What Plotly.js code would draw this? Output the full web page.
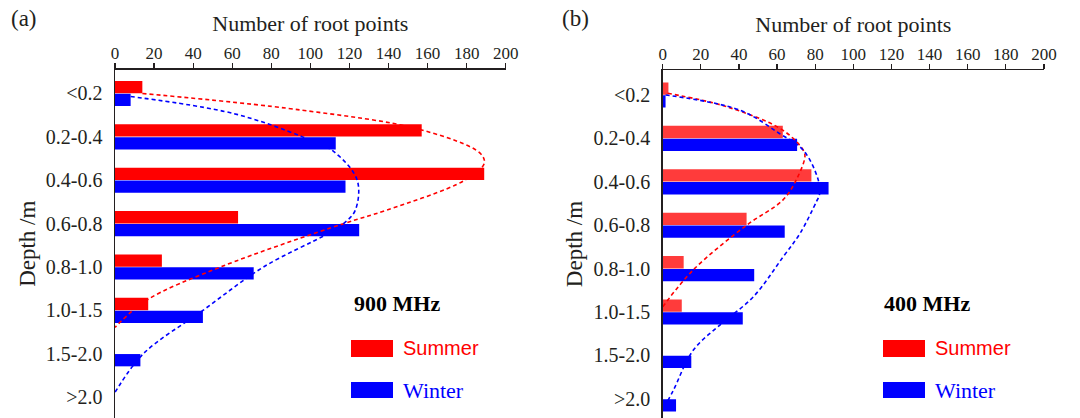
<!DOCTYPE html>
<html>
<head>
<meta charset="utf-8">
<script src="https://cdn.plot.ly/plotly-3.0.1.min.js"></script>
<style>html,body{margin:0;padding:0;background:#fff;}#chart{width:1080px;height:418px;}</style>
</head>
<body>
<div id="chart"></div>
<script>
// ---- data ----
const depthClasses = ["<0.2", "0.2-0.4", "0.4-0.6", "0.6-0.8", "0.8-1.0", "1.0-1.5", "1.5-2.0", ">2.0"];
const summer900 = [14, 157, 189, 63, 24, 17, 0, 0];
const winter900 = [8, 113, 118, 125, 71, 45, 13, 0];
const summer400 = [3, 63, 78, 44, 11, 10, 0, 0];
const winter400 = [1.5, 70.5, 87, 64, 48, 42, 15, 7];

// fitted distribution curves (x = number of root points, y = depth class position)
const curveSummer900X = [14, 95, 157, 187, 189, 179, 139, 117, 54, 16, 0];
const curveSummer900Y = [0, 0.38, 0.84, 1.38, 1.61, 2.0, 2.69, 3.0, 4.0, 4.77, 5.39];
const curveWinter900X = [8, 60.5, 96, 112, 124, 123, 117, 109, 76, 45, 14.5, 0];
const curveWinter900Y = [0.07, 0.46, 1.0, 1.34, 2.0, 2.69, 3.0, 3.23, 4.0, 5.0, 6.0, 6.89];
const curveSummer400X = [2.6, 33.6, 63, 73.7, 74.6, 70, 63, 44, 16, 0];
const curveSummer400Y = [-0.04, 0.27, 0.81, 1.27, 1.42, 1.96, 2.42, 3.0, 4.03, 4.88];
const curveWinter400X = [1.5, 40.5, 61, 73.7, 81.6, 82.2, 80.7, 72, 63.3, 47.5, 31, 16, 5.6, 0];
const curveWinter400Y = [0, 0.35, 0.88, 1.27, 1.96, 2.3, 2.45, 3.19, 3.72, 4.65, 5.26, 5.88, 6.8, 7.26];

const xTicks = [0, 20, 40, 60, 80, 100, 120, 140, 160, 180, 200];
const seriesNames = ["Summer", "Winter"];
const panelLabels = ["(a)", "(b)"];
const bandLabels = ["900 MHz", "400 MHz"];
const xTitle = "Number of root points";
const yTitle = "Depth /m";

// ---- styling ----
const RED = "#ff0000", RED2 = "#ff3b3b", BLUE = "#0000ff";
const SERIF = "Liberation Serif, Times New Roman, serif";
const SANS = "Liberation Sans, Arial, sans-serif";
const AX = "#231f20";
const pos = depthClasses.map((c, i) => i);

function bar(x, color, xa, ya, name) {
  return {type: "bar", orientation: "h", x: x, y: pos, name: name,
          xaxis: xa, yaxis: ya, marker: {color: color, line: {width: 0}},
          showlegend: false, hoverinfo: "x"};
}
function curve(x, y, color, xa, ya) {
  return {type: "scatter", mode: "lines", x: x, y: y, xaxis: xa, yaxis: ya,
          line: {color: color, width: 1.6, dash: "4px,3px", shape: "spline", smoothing: 1.0},
          showlegend: false, hoverinfo: "skip"};
}

const data = [
  bar(summer900, RED, "x", "y", seriesNames[0]),
  bar(winter900, BLUE, "x", "y", seriesNames[1]),
  curve(curveSummer900X, curveSummer900Y, RED, "x", "y"),
  curve(curveWinter900X, curveWinter900Y, BLUE, "x", "y"),
  bar(summer400, RED2, "x2", "y2", seriesNames[0]),
  bar(winter400, BLUE, "x2", "y2", seriesNames[1]),
  curve(curveSummer400X, curveSummer400Y, RED, "x2", "y2"),
  curve(curveWinter400X, curveWinter400Y, BLUE, "x2", "y2")
];

function xaxis(domain, anchor) {
  return {domain: domain, anchor: anchor, side: "top", range: [0, 200],
          tickvals: xTicks, ticks: "outside", ticklen: 5, tickwidth: 1.2, tickcolor: AX,
          ticklabelstandoff: -3,
          showline: true, linecolor: AX, linewidth: 1.5, showgrid: false, zeroline: false,
          tickfont: {family: SERIF, size: 17, color: "#231f20"},
          title: {text: xTitle, font: {family: SERIF, size: 22, color: "#231f20"}, standoff: 6},
          fixedrange: true};
}
function yaxis(domain, anchor, range) {
  return {domain: domain, anchor: anchor, range: range,
          tickvals: pos, ticktext: depthClasses, ticks: "", ticklabelstandoff: 7,
          showline: true, linecolor: AX, linewidth: 1.5, showgrid: false, zeroline: false,
          tickfont: {family: SERIF, size: 20, color: "#231f20"},
          title: {text: yTitle, font: {family: SERIF, size: 23, color: "#231f20"}, standoff: 4},
          fixedrange: true};
}

const W = 1080, H = 418;
const px = v => v / W, py = v => 1 - v / H;

const annotations = [];
const shapes = [];
[[0, 351, 397], [1, 883, 927]].forEach(([k, lx, cx]) => {
  annotations.push({xref: "paper", yref: "paper", x: px(k === 0 ? 24 : 575), y: py(18),
    text: panelLabels[k], showarrow: false, xanchor: "center", yanchor: "middle",
    font: {family: SERIF, size: 23, color: "#231f20"}});
  annotations.push({xref: "paper", yref: "paper", x: px(cx), y: py(303),
    text: "<b>" + bandLabels[k] + "</b>", showarrow: false, xanchor: "center", yanchor: "middle",
    font: {family: SERIF, size: 22, color: "#000"}});
  shapes.push({type: "rect", xref: "paper", yref: "paper", x0: px(lx), x1: px(lx + 42),
    y0: py(340), y1: py(357), fillcolor: RED, line: {width: 0}});
  shapes.push({type: "rect", xref: "paper", yref: "paper", x0: px(lx), x1: px(lx + 42),
    y0: py(382), y1: py(398), fillcolor: BLUE, line: {width: 0}});
  annotations.push({xref: "paper", yref: "paper", x: px(lx + 50), y: py(348),
    text: seriesNames[0], showarrow: false, xanchor: "left", yanchor: "middle",
    font: {family: SANS, size: 20, color: RED}});
  annotations.push({xref: "paper", yref: "paper", x: px(lx + 50), y: py(390),
    text: seriesNames[1], showarrow: false, xanchor: "left", yanchor: "middle",
    font: {family: SERIF, size: 22, color: BLUE}});
});

const layout = {
  width: W, height: H,
  margin: {l: 0, r: 0, t: 0, b: 0},
  paper_bgcolor: "#fff", plot_bgcolor: "rgba(0,0,0,0)",
  barmode: "group", bargap: 0.41, bargroupgap: 0.04,
  showlegend: false,
  xaxis: xaxis([px(115), px(505.7)], "y"),
  yaxis: yaxis([0, py(69.5)], "x", [7.48, -0.553]),
  xaxis2: xaxis([px(662.7), px(1044)], "y2"),
  yaxis2: yaxis([0, py(70)], "x2", [7.44, -0.576]),
  annotations: annotations,
  shapes: shapes
};

Plotly.newPlot("chart", data, layout, {displayModeBar: false, staticPlot: true});
</script>
</body>
</html>
